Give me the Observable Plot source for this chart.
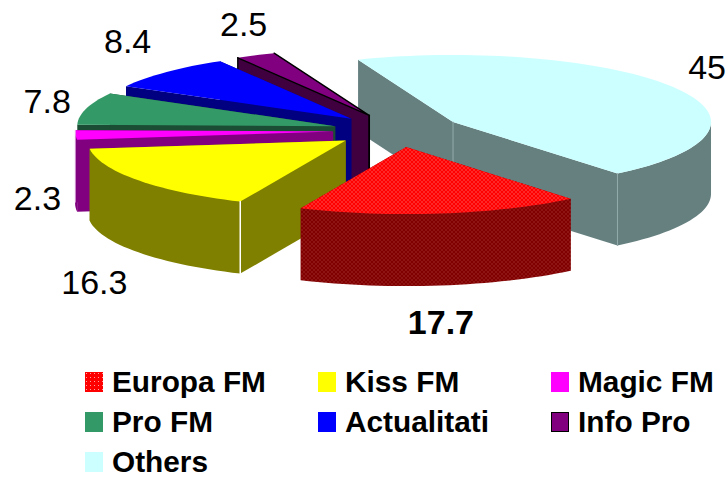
<!DOCTYPE html>
<html>
<head>
<meta charset="utf-8">
<script src="https://cdn.jsdelivr.net/npm/d3@7"></script>
<script src="https://cdn.jsdelivr.net/npm/@observablehq/plot@0.6"></script>
<style>
html,body{margin:0;padding:0;background:#fff;overflow:hidden}
#chart svg{display:block;background:#fff}
#legend{display:grid;grid-template-columns:233px 233px 175px;grid-auto-rows:40px;margin-left:85px;
 font:bold 29.8px/24px "Liberation Sans",Arial,sans-serif;color:#000;height:115px}
.item{display:flex;align-items:center;white-space:nowrap}
.sw{width:18px;height:20px;margin-right:9px;box-sizing:border-box;flex:none}
</style>
</head>
<body>
<div id="chart"></div>
<div id="legend"></div>
<script>
// Data (percent share), in the order the pie runs clockwise
const names  = ["Europa FM","Kiss FM","Magic FM","Pro FM","Actualitati","Info Pro","Others"];
const values = [17.7,16.3,2.3,7.8,8.4,2.5,45];
const labels = ["17.7","16.3","2.3","7.8","8.4","2.5","45"];
const topColors  = ["url(#dotsTop)","#FFFF00","#FF00FF","#339966","#0000FF","#800080","#CCFFFF"];
const wallColors = ["url(#dotsWall)","#808000","#800080","#1A4D33","#000080","#400040","#668080"];
const outlines   = [null,null,null,null,null,"#000000",null];
const bold       = [true,false,false,false,false,false,false];
const paintOrder = ["Others","Info Pro","Actualitati","Pro FM","Magic FM","Kiss FM","Europa FM"];
const labelNudgeX = [0,-44,-38,-39,-39,-12,32];
const labelNudgeY = [110,103,64,-7,-30,-30,-20];

// Pie geometry: units are one pie radius on each axis
const firstAngle = 140.4, explode = 0.25, thickness = 72 / 67;
const W = 727, H = 362, rx = 258, ry = 67, cx = 397, cy = 130;

const rad = d => d * Math.PI / 180;
const total = d3.sum(values);
let acc = 0;
const slices = names.map((name, i) => {
  let a0 = firstAngle + acc / total * 360;
  acc += values[i];
  let a1 = firstAngle + acc / total * 360;
  if (a0 >= 360 - 1e-9 || a1 > 360 + 90) { a0 -= 360; a1 -= 360; }
  const mid = (a0 + a1) / 2;
  const ax = explode * Math.sin(rad(mid)), ay = explode * Math.cos(rad(mid));
  const arc = (b0, b1) => {
    const out = [];
    if (b1 <= b0) return out;
    for (let k = 0, n = Math.ceil((b1 - b0) / 2); k <= n; ++k) {
      const t = rad(b0 + (b1 - b0) * k / n);
      out.push([ax + Math.sin(t), ay + Math.cos(t)]);
    }
    return out;
  };
  return {
    name, i, ax, ay,
    rim: arc(a0, a1),
    front: arc(Math.max(a0, 90), Math.min(a1, 270)), // only the arc facing the viewer has a visible wall
    labelX: ax + Math.sin(rad(mid)), labelY: ay + Math.cos(rad(mid))
  };
});
const pts = a => a.map(([x, y]) => ({x, y}));
const down = ([x, y]) => [x, y - thickness];
const poly = (a, fill) => Plot.line(pts(a), {x: "x", y: "y", curve: "linear-closed", fill, stroke: "none"});
const seg = (a, stroke, strokeWidth) => Plot.line(pts(a), {x: "x", y: "y", stroke, strokeWidth});

const marks = [];
for (const nm of paintOrder) {
  const s = slices.find(d => d.name === nm);
  const apex = [s.ax, s.ay], first = s.rim[0], last = s.rim[s.rim.length - 1];
  const wall = wallColors[s.i], top = topColors[s.i], line = outlines[s.i];
  marks.push(poly([apex, first, down(first), down(apex)], wall));
  marks.push(poly([apex, last, down(last), down(apex)], wall));
  if (s.front.length) marks.push(poly([...s.front, ...s.front.map(down).reverse()], wall));
  marks.push(poly([apex, ...s.rim], top));
  if (line) {
    marks.push(seg([first, apex, last], line, 1.4));
    marks.push(seg([down(first), first], line, 1.4));
    marks.push(seg([apex, down(apex)], line, 1.8));
  }
  // pale seams on the walls' vertical corners
  if (nm === "Others") {
    for (const p of [apex, last]) marks.push(seg([p, down(p)], "#93AAAA", 1));
  }
  if (nm === "Kiss FM") marks.push(seg([first, down(first)], "#FFFFFF", 1.5));
  if (nm === "Magic FM") marks.push(seg([last, down(last)], "#F4D8F4", 1));
}
for (const s of slices) {
  marks.push(Plot.text([s], {
    x: "labelX", y: "labelY", text: d => labels[d.i],
    dx: labelNudgeX[s.i], dy: labelNudgeY[s.i],
    fontSize: 34, fontWeight: bold[s.i] ? "bold" : "normal", fill: "#000"
  }));
}

const chart = Plot.plot({
  width: W, height: H, margin: 0,
  style: {fontFamily: '"Liberation Sans", Arial, sans-serif', background: "#fff", overflow: "visible"},
  x: {axis: null, domain: [-cx / rx, (W - cx) / rx], range: [0, W]},
  y: {axis: null, domain: [(cy - H) / ry, cy / ry], range: [H, 0]},
  marks
});

// Dotted textures used by the Europa FM slice
const defs = d3.select(chart).insert("defs", ":first-child");
[["dotsTop", "#FF0000", "#FFA0A0"], ["dotsWall", "#800000", "#B85050"]].forEach(([id, bg, dot]) => {
  const p = defs.append("pattern").attr("id", id).attr("patternUnits", "userSpaceOnUse")
    .attr("width", 4).attr("height", 4);
  p.append("rect").attr("width", 4).attr("height", 4).attr("fill", bg);
  p.append("rect").attr("x", 1).attr("y", 1).attr("width", 1).attr("height", 1).attr("fill", dot);
  p.append("rect").attr("x", 3).attr("y", 3).attr("width", 1).attr("height", 1).attr("fill", dot);
});
document.getElementById("chart").append(chart);

const legendColors = ["#FF0000","#FFFF00","#FF00FF","#339966","#0000FF","#800080","#CCFFFF"];
const legend = document.getElementById("legend");
names.forEach((name, i) => {
  const item = document.createElement("div"); item.className = "item";
  const sw = document.createElement("div"); sw.className = "sw";
  sw.style.background = legendColors[i];
  if (i === 0) {
    sw.style.background = "radial-gradient(circle at 1.5px 1.5px,#FFA0A0 0.8px,transparent 1px) 0 0/4px 4px,#FF0000";
  }
  if (outlines[i]) sw.style.border = "1.5px solid " + outlines[i];
  item.append(sw, name);
  legend.append(item);
});
</script>
</body>
</html>
